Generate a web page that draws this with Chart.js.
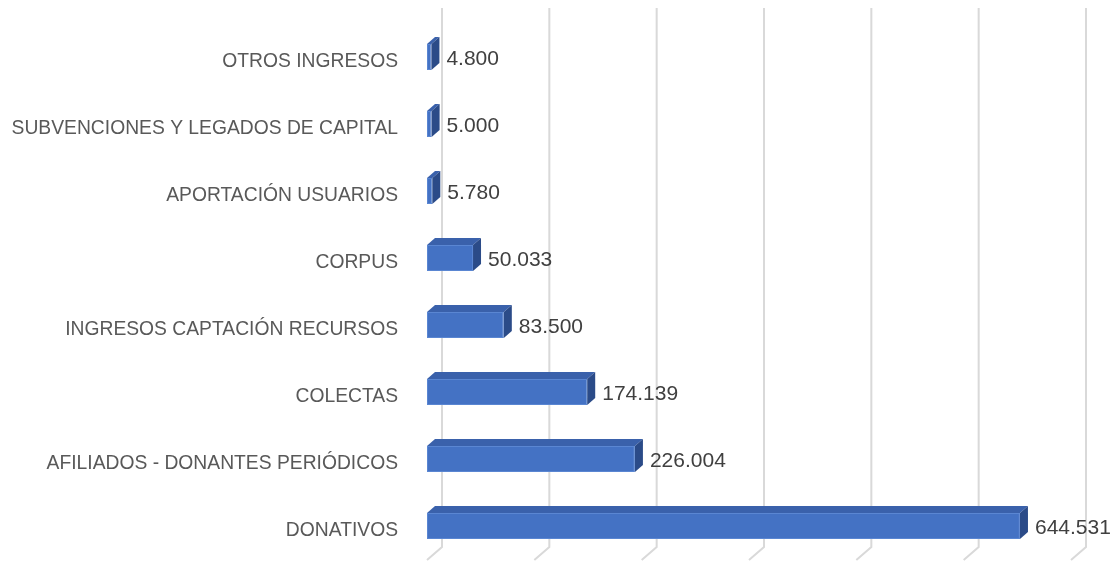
<!DOCTYPE html>
<html>
<head>
<meta charset="utf-8">
<script src="https://cdn.jsdelivr.net/npm/chart.js@4"></script>
<style>
  body { margin: 0; background: #fff; }
  #wrap { width: 1113px; height: 563px; }
</style>
</head>
<body>
<div id="wrap"><canvas id="bars"></canvas></div>
<script>
// categories top to bottom, values as printed on the bars
var categories = [
  "OTROS INGRESOS",
  "SUBVENCIONES Y LEGADOS DE CAPITAL",
  "APORTACIÓN USUARIOS",
  "CORPUS",
  "INGRESOS CAPTACIÓN RECURSOS",
  "COLECTAS",
  "AFILIADOS - DONANTES PERIÓDICOS",
  "DONATIVOS"
];
var ingresos = [4800, 5000, 5780, 50033, 83500, 174139, 226004, 644531];
var axisMax = 700000;

function fmt(v) {
  return String(v).replace(/\B(?=(\d{3})+(?!\d))/g, ".");
}

// fake 3d: back grid plane + top/side faces of the bars
const threeD = {
  id: "threeD",
  beforeDatasetsDraw(chart) {
    var c = chart.ctx, xs = chart.scales.x;
    c.save();
    c.strokeStyle = "#d9d9d9";
    c.lineWidth = 2;
    xs.ticks.forEach(function (t) {
      var fx = xs.getPixelForValue(t.value);
      c.beginPath();
      c.moveTo(fx + 15, 8);
      c.lineTo(fx + 15, 547);
      c.lineTo(fx, 560);
      c.stroke();
    });
    c.restore();
  },
  afterDatasetsDraw(chart) {
    var c = chart.ctx;
    var meta = chart.getDatasetMeta(0);
    var dx = 8, dy = 7;
    c.save();
    meta.data.forEach(function (bar, i) {
      var top = bar.y - bar.height / 2, bot = bar.y + bar.height / 2;
      c.fillStyle = "#3A61AB";
      c.beginPath();
      c.moveTo(bar.base, top);
      c.lineTo(bar.base + dx, top - dy);
      c.lineTo(bar.x + dx, top - dy);
      c.lineTo(bar.x, top);
      c.closePath();
      c.fill();
      c.fillStyle = "#2B4B88";
      c.beginPath();
      c.moveTo(bar.x, top);
      c.lineTo(bar.x + dx, top - dy);
      c.lineTo(bar.x + dx, bot - dy);
      c.lineTo(bar.x, bot);
      c.closePath();
      c.fill();

      c.fillStyle = "#404040";
      c.font = "21px 'Liberation Sans', Arial, sans-serif";
      c.textAlign = "left";
      c.textBaseline = "middle";
      c.fillText(fmt(ingresos[i]), bar.x + dx + 7, bar.y + 2);
    });
    c.restore();
  }
};

let ctx = document.querySelector("#bars");

const myChart = new Chart(ctx, {
  type: "bar",
  data: {
    labels: categories,
    datasets: [{
      data: ingresos,
      backgroundColor: "#4472C4",
      borderColor: "#5A86D2",
      borderWidth: 1,
      borderSkipped: false,
      categoryPercentage: 1,
      barPercentage: 0.39
    }]
  },
  options: {
    indexAxis: "y",
    responsive: true,
    maintainAspectRatio: false,
    animation: false,
    layout: { padding: { top: 23.5, bottom: 3.5, right: 42, left: 0 } },
    plugins: {
      legend: { display: false },
      tooltip: { enabled: false }
    },
    scales: {
      x: {
        display: false,
        min: 0,
        max: axisMax,
        ticks: { count: 7 }
      },
      y: {
        grid: { display: false },
        border: { display: false },
        afterFit: function (scale) {
          scale.width = 427;
          scale.paddingTop = 0;
          scale.paddingBottom = 0;
        },
        ticks: {
          padding: 21,
          labelOffset: 5,
          color: "#595959",
          font: { family: "'Liberation Sans', Arial, sans-serif", size: 19.3 }
        }
      }
    }
  },
  plugins: [threeD]
});
</script>
</body>
</html>
